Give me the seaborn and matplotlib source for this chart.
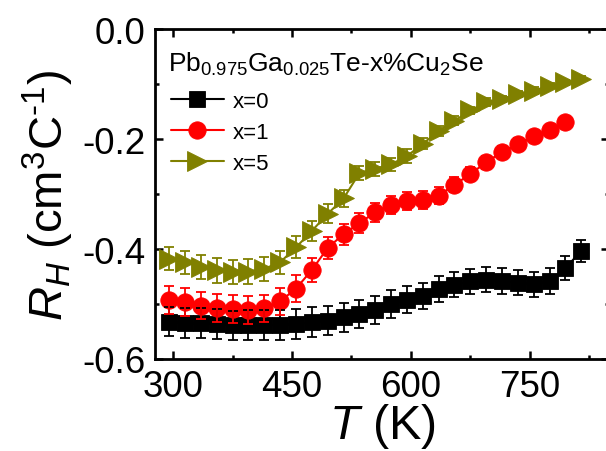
import numpy as np
import pandas as pd
import seaborn as sns
import matplotlib
matplotlib.use("Agg")
import matplotlib.pyplot as plt
from matplotlib.ticker import MultipleLocator

# ---- data ----
T_x0 = [295, 315, 335, 355, 375, 395, 415, 435, 455, 475, 495, 515, 535, 555,
        575, 595, 615, 635, 655, 675, 695, 715, 735, 755, 775, 795, 815]
RH_x0 = [-0.532, -0.535, -0.535, -0.536, -0.539, -0.538, -0.538, -0.538, -0.536,
         -0.533, -0.530, -0.524, -0.518, -0.511, -0.500, -0.492, -0.485, -0.473,
         -0.465, -0.459, -0.456, -0.458, -0.461, -0.464, -0.458, -0.435, -0.403]
err_x0 = [0.027, 0.027, 0.027, 0.027, 0.027, 0.027, 0.027, 0.027, 0.027,
          0.027, 0.026, 0.026, 0.026, 0.026, 0.025, 0.025, 0.024, 0.024,
          0.023, 0.023, 0.023, 0.023, 0.023, 0.023, 0.023, 0.022, 0.020]

T_x1 = [295, 315, 335, 355, 375, 395, 415, 435, 455, 475, 495, 515, 535, 555,
        575, 595, 615, 635, 655, 675, 695, 715, 735, 755, 775, 795]
RH_x1 = [-0.493, -0.496, -0.503, -0.507, -0.509, -0.511, -0.508, -0.495, -0.472,
         -0.438, -0.398, -0.373, -0.353, -0.333, -0.320, -0.313, -0.311, -0.303,
         -0.283, -0.264, -0.242, -0.224, -0.209, -0.195, -0.184, -0.169]
err_x1 = [0.025, 0.025, 0.025, 0.025, 0.025, 0.025, 0.025, 0.025, 0.024,
          0.022, 0.020, 0.019, 0.018, 0.017, 0.016, 0.016, 0.016, 0.015,
          0.014, 0.013, 0.012, 0.011, 0.010, 0.010, 0.009, 0.008]

T_x5 = [295, 315, 335, 355, 375, 395, 415, 435, 455, 475, 495, 515, 535, 555,
        575, 595, 615, 635, 655, 675, 695, 715, 735, 755, 775, 795, 815]
RH_x5 = [-0.418, -0.424, -0.432, -0.439, -0.442, -0.441, -0.436, -0.424, -0.397,
         -0.367, -0.336, -0.308, -0.262, -0.254, -0.246, -0.231, -0.209, -0.185,
         -0.167, -0.148, -0.133, -0.127, -0.118, -0.112, -0.103, -0.097, -0.090]
err_x5 = [0.021, 0.021, 0.022, 0.022, 0.022, 0.022, 0.022, 0.021, 0.020,
          0.018, 0.017, 0.015, 0.013, 0.013, 0.012, 0.012, 0.010, 0.009,
          0.008, 0.007, 0.007, 0.006, 0.006, 0.006, 0.005, 0.005, 0.005]

labels = ["x=0", "x=1", "x=5"]
colors = ["#000000", "#ff0000", "#808000"]
markers = ["s", "o", ">"]
msizes = [11.5, 12.5, 15]

title_text = r"Pb$_{0.975}$Ga$_{0.025}$Te-x%Cu$_2$Se"
xticks = [300, 450, 600, 750]
yticks = [0.0, -0.2, -0.4, -0.6]

# ---- style ----
sns.set_style("ticks")
plt.rcParams["font.family"] = ["Liberation Sans", "DejaVu Sans"]
plt.rcParams["mathtext.fontset"] = "custom"
plt.rcParams["mathtext.rm"] = "Liberation Sans"
plt.rcParams["mathtext.it"] = "Liberation Sans:italic"
plt.rcParams["mathtext.bf"] = "Liberation Sans:bold"
for k in ["text.color", "axes.labelcolor", "xtick.color", "ytick.color",
          "axes.edgecolor"]:
    plt.rcParams[k] = "black"

fig = plt.figure(figsize=(6.06, 4.52), dpi=100)
ax = fig.add_axes([155 / 606, 1 - 360 / 452, 454 / 606, 330 / 452])

series = [(T_x0, RH_x0, err_x0), (T_x1, RH_x1, err_x1), (T_x5, RH_x5, err_x5)]
for (T, RH, err), lab, c, m, ms in zip(series, labels, colors, markers, msizes):
    df = pd.DataFrame({"T": T, "RH": RH})
    sns.lineplot(data=df, x="T", y="RH", ax=ax, color=c, marker=m,
                 markersize=ms, markeredgewidth=0.6, markeredgecolor=c,
                 linewidth=1.5, label=lab, zorder=2)
for (T, RH, err), c in zip(series, colors):
    ax.errorbar(T, RH, yerr=err, fmt="none", ecolor=c, elinewidth=1.3,
                capsize=3.5, capthick=1.3, zorder=3)

ax.set_xlim(277, 850)
ax.set_ylim(-0.6, 0.0)
ax.set_xticks(xticks)
ax.set_yticks(yticks)
ax.set_yticklabels([f"{v:.1f}" for v in yticks])
ax.xaxis.set_minor_locator(MultipleLocator(75))
ax.yaxis.set_minor_locator(MultipleLocator(0.1))

for s in ax.spines.values():
    s.set_linewidth(2.0)
    s.set_visible(True)
    s.set_color("black")
ax.tick_params(which="both", direction="in", top=True, right=True, width=1.8,
               color="black", labelcolor="black")
ax.tick_params(which="major", length=5.5, labelsize=26.5, pad=7)
ax.tick_params(which="minor", length=3)

ax.set_xlabel(r"$T$ (K)", fontsize=35, labelpad=-2)
ax.set_ylabel("$R_H$ (cm$^3$C$^{\u2010 1}$)", fontsize=34, labelpad=4)

ax.text(0.028, 0.895, title_text, transform=ax.transAxes, fontsize=19,
        ha="left", va="center")

leg = ax.legend(loc="upper left", bbox_to_anchor=(0.0, 0.86), frameon=False,
                fontsize=16, handlelength=2.4, handletextpad=0.4,
                labelspacing=0.45, borderaxespad=0.3)

fig.savefig("out.png", dpi=100)
